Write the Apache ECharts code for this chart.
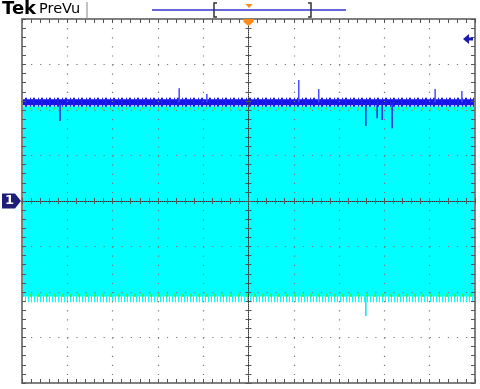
<!DOCTYPE html>
<html lang="en">
<head>
<meta charset="UTF-8">
<title>Tek PreVu</title>
<script src="https://cdn.jsdelivr.net/npm/echarts@6/dist/echarts.min.js"></script>
<style>html,body{margin:0;padding:0;background:#fff}#main{width:480px;height:389px}</style>
</head>
<body>
<div id="main"></div>
<script>
// screen in divisions: 10 across, 8 up, centre = 0
var xRange = [-5, 5];
var yRange = [-4, 4];

// trace levels (div)
var traceTop = [[-5, 2.17], [5, 2.17]];
var fillTop = [[-5, 2.08], [5, 2.08]];
var fillBottom = -2.1;
var greenTop = [[-5, 2.03], [5, 2.03]];
var greenBottom = [[-5, -2.07], [5, -2.07]];
var raggedBottom = [[-5, -2.15], [5, -2.15]];

// glitches on the upper trace
var upX = [-1.53, -0.92, 1.11, 1.55, 4.12, 4.71];
var upY = [2.48, 2.35, 2.66, 2.46, 2.46, 2.42];
var downX = [-4.16, 2.59, 2.84, 2.95, 3.17];
var downY = [1.76, 1.65, 1.82, 1.78, 1.6];
// glitch on the lower edge
var lowX = [2.59];
var lowY = [-2.53];

var chDiv = 0;        // channel 1 ground marker
var trigLevel = 3.56; // trigger level arrow

var gray = '#808080';
var dotColor = '#777';

function spikes(xs, ys, base, color, w) {
    return {
        type: 'custom',
        silent: true,
        z: 6,
        data: xs.map(function (x, i) { return [x, ys[i]]; }),
        renderItem: function (params, api) {
            var a = api.coord([api.value(0), base]);
            var b = api.coord([api.value(0), api.value(1)]);
            return {
                type: 'line',
                shape: {x1: a[0], y1: a[1], x2: b[0], y2: b[1]},
                style: {stroke: color, lineWidth: w}
            };
        }
    };
}

function flatLine(data, color, width, dash, z) {
    return {
        type: 'line', data: data, showSymbol: false, silent: true, z: z,
        lineStyle: {color: color, width: width, type: dash || 'solid'}
    };
}

function axis(dim, pos, onZero, inside, split, line) {
    var a = {
        type: 'value',
        position: pos,
        min: dim === 'x' ? xRange[0] : yRange[0],
        max: dim === 'x' ? xRange[1] : yRange[1],
        interval: 1,
        axisLabel: {show: false},
        axisLine: {
            show: !!line,
            onZero: onZero,
            lineStyle: line || {}
        },
        axisTick: {show: true, inside: inside, length: onZero ? 3 : 4, lineStyle: {color: '#555'}},
        minorTick: {show: true, splitNumber: 5, length: onZero ? 3 : 4, lineStyle: {color: '#555'}},
        splitLine: {show: false},
        z: 10
    };
    if (onZero) a.axisLine.onZeroAxisIndex = 0;
    if (split) {
        a.splitLine = {show: true, lineStyle: {color: dotColor, width: 1.2,
            type: dim === 'x' ? [1.2, 7.9] : [1.2, 7.86]}};
    }
    return a;
}

var border = {color: gray, width: 2};
var cross = {color: '#333', width: 1, type: [1, 1]};

var myChart = echarts.init(document.getElementById('main'));
var option = {
    animation: false,
    backgroundColor: '#fff',
    grid: {left: 22, top: 19, width: 453, height: 364, outerBoundsMode: 'none', containLabel: false},
    xAxis: [
        axis('x', 'bottom', false, true, true, border),
        axis('x', 'top', false, true, false, border),
        axis('x', 'bottom', true, true, false, cross),
        axis('x', 'bottom', true, false, false, null)
    ],
    yAxis: [
        axis('y', 'left', false, true, true, border),
        axis('y', 'right', false, true, false, border),
        axis('y', 'left', true, true, false, cross),
        axis('y', 'left', true, false, false, null)
    ],
    series: [
        {
            type: 'line', data: fillTop, showSymbol: false, silent: true, z: 2,
            lineStyle: {width: 0},
            areaStyle: {color: '#00ffff', opacity: 1, origin: fillBottom}
        },
        flatLine(raggedBottom, '#00ffff', 7, [1, 2], 2),
        flatLine(greenBottom, '#3cf03c', 3, [2, 6], 3),
        flatLine(greenTop, '#3cf03c', 2, [1, 7], 3),
        flatLine(traceTop, '#1414e6', 6, 'solid', 4),
        flatLine(traceTop, '#1c1cec', 9, [1, 2, 2, 3], 4),
        spikes(upX, upY, 2.17, '#4a4aff', 1.5),
        spikes(downX, downY, 2.17, '#2222dd', 1.5),
        spikes(lowX, lowY, fillBottom, '#00e8f0', 1.5)
    ]
};
myChart.setOption(option);

// screen annotations placed from the same scales
var ch = myChart.convertToPixel({xAxisIndex: 0, yAxisIndex: 0}, [xRange[0], chDiv]);
var tr = myChart.convertToPixel({xAxisIndex: 0, yAxisIndex: 0}, [xRange[1], trigLevel]);
var ctr = myChart.convertToPixel({xAxisIndex: 0, yAxisIndex: 0}, [0, yRange[1]]);

myChart.setOption({
    graphic: [
        {type: 'text', left: 2, top: 0, style: {text: 'Tek', fill: '#000', font: 'bold 18px "DejaVu Sans"'}},
        {type: 'text', left: 39, top: 2, style: {text: 'PreVu', fill: '#000', font: '14.5px "DejaVu Sans"'}},
        {type: 'line', shape: {x1: 87, y1: 2, x2: 87, y2: 18}, style: {stroke: '#888', lineWidth: 1}},
        // record view bar
        {type: 'line', shape: {x1: 152, y1: 10, x2: 346, y2: 10}, style: {stroke: '#3535d0', lineWidth: 1.5}},
        {type: 'polyline', shape: {points: [[217, 3], [214, 3], [214, 17], [217, 17]]}, style: {stroke: '#333', lineWidth: 1.5, fill: null}},
        {type: 'polyline', shape: {points: [[308, 3], [311, 3], [311, 17], [308, 17]]}, style: {stroke: '#333', lineWidth: 1.5, fill: null}},
        {type: 'polygon', shape: {points: [[245.5, 4], [252.5, 4], [249, 8]]}, style: {fill: '#ff8a1a'}},
        // trigger position marker
        {type: 'polygon', z: 100, shape: {points: [[ctr[0] - 5, ctr[1]], [ctr[0] + 5, ctr[1]], [ctr[0] + 5, ctr[1] + 3], [ctr[0], ctr[1] + 7], [ctr[0] - 5, ctr[1] + 3]]}, style: {fill: '#ff8a1a'}},
        // channel 1 marker
        {type: 'polygon', z: 100, shape: {points: [[2, ch[1] - 7.5], [15, ch[1] - 7.5], [21, ch[1]], [15, ch[1] + 7.5], [2, ch[1] + 7.5]]}, style: {fill: '#1e1e78'}},
        {type: 'text', z: 101, left: 5, top: ch[1] - 7, style: {text: '1', fill: '#fff', font: 'bold 13px "DejaVu Sans"'}},
        // trigger level arrow
        {type: 'polygon', z: 100, shape: {points: [[tr[0] - 12, tr[1]], [tr[0] - 6, tr[1] - 5], [tr[0] - 6, tr[1] - 1.5], [tr[0] - 2, tr[1] - 1.5], [tr[0] - 2, tr[1] + 1.5], [tr[0] - 6, tr[1] + 1.5], [tr[0] - 6, tr[1] + 5]]}, style: {fill: '#1a1ab0'}}
    ]
});
</script>
</body>
</html>
